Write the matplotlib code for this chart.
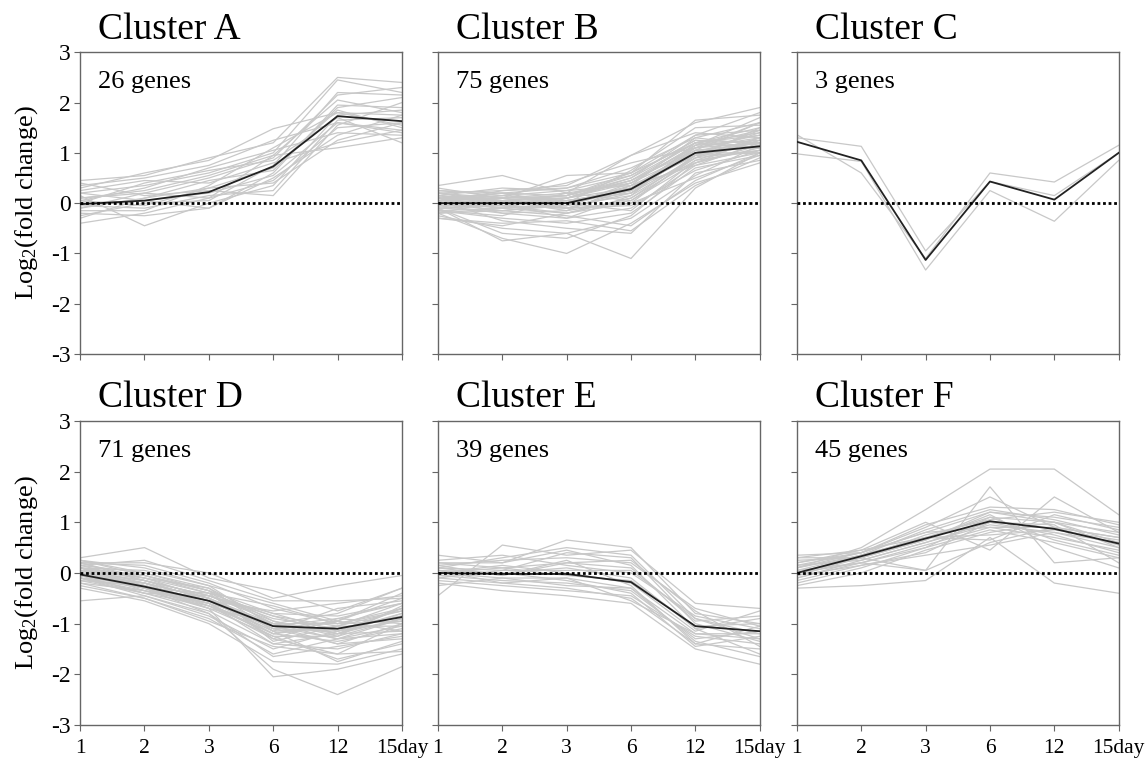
import numpy as np
import matplotlib
matplotlib.use("Agg")
import matplotlib.pyplot as plt

plt.rcParams['font.family'] = ['Liberation Serif', 'DejaVu Serif']
plt.rcParams['mathtext.fontset'] = 'custom'
plt.rcParams['mathtext.rm'] = 'Liberation Serif'
plt.rcParams['mathtext.default'] = 'regular'

days = ["1", "2", "3", "6", "12", "15day"]
names = ["Cluster A", "Cluster B", "Cluster C", "Cluster D", "Cluster E", "Cluster F"]
counts = ["26 genes", "75 genes", "3 genes", "71 genes", "39 genes", "45 genes"]

# cluster means (black lines)
mean_a = [-0.02, 0.05, 0.22, 0.73, 1.73, 1.63]
mean_b = [0.0, 0.0, 0.0, 0.28, 1.0, 1.13]
mean_c = [1.22, 0.85, -1.13, 0.43, 0.07, 1.0]
mean_d = [-0.03, -0.27, -0.55, -1.05, -1.1, -0.87]
mean_e = [0.0, -0.02, -0.02, -0.18, -1.05, -1.15]
mean_f = [0.0, 0.33, 0.68, 1.02, 0.87, 0.58]

# individual genes (grey lines)
genes_a = [
    [0.45, 0.55, 0.9, 1.2, 2.5, 2.4],
    [0.3, 0.6, 0.85, 1.48, 1.8, 1.75],
    [0.2, 0.35, 0.6, 1.0, 2.45, 2.2],
    [0.1, 0.2, 0.5, 0.9, 2.15, 2.3],
    [-0.1, 0.1, 0.3, 0.7, 1.85, 1.5],
    [0.0, 0.05, 0.2, 0.55, 1.6, 1.45],
    [-0.4, -0.2, 0.1, 0.45, 1.5, 1.6],
    [0.15, -0.45, 0.0, 0.35, 1.75, 1.85],
    [-0.2, -0.25, -0.1, 0.6, 1.95, 1.9],
    [0.05, 0.3, 0.7, 1.05, 1.4, 1.35],
    [0.25, 0.45, 0.4, 0.8, 1.2, 1.45],
    [-0.05, -0.1, 0.15, 0.25, 1.65, 1.7],
    [0.1, 0.25, 0.55, 0.95, 1.1, 1.3],
    [0.4, 0.15, 0.25, 0.15, 1.55, 2.0],
    [-0.25, 0.0, 0.05, 0.75, 2.2, 2.15],
    [0.0, 0.4, 0.65, 0.85, 1.7, 1.2],
    [-0.15, -0.15, 0.35, 1.1, 1.8, 1.55],
    [0.2, 0.05, -0.1, 0.5, 1.35, 1.75],
    [-0.3, 0.1, 0.45, 0.65, 1.9, 2.1],
    [0.35, 0.5, 0.75, 1.25, 1.6, 1.4],
    [0.05, -0.05, 0.3, 0.4, 1.25, 1.6],
    [-0.1, 0.2, 0.1, 0.95, 2.05, 1.8],
]
genes_b = [
    [0.35, 0.55, 0.2, 0.95, 1.6, 1.9],
    [0.2, 0.1, 0.55, 0.6, 1.65, 1.75],
    [-0.1, -0.75, -0.6, -1.1, 0.3, 1.0],
    [-0.2, -0.7, -1.0, -0.4, 0.4, 0.8],
    [0.1, 0.05, 0.15, 0.5, 1.2, 1.5],
    [0.0, -0.1, -0.05, 0.3, 1.05, 1.2],
    [-0.3, -0.4, -0.35, -0.55, 0.35, 0.9],
    [0.25, 0.2, 0.3, 0.7, 1.3, 1.6],
    [0.05, 0.15, 0.05, 0.2, 0.9, 1.05],
    [-0.05, -0.2, -0.15, 0.05, 0.8, 1.1],
    [0.15, 0.0, 0.1, 0.45, 1.1, 1.35],
    [-0.15, -0.3, -0.4, -0.2, 0.7, 0.95],
    [0.2, 0.25, 0.35, 0.95, 1.4, 1.3],
    [-0.25, -0.5, -0.6, -0.3, 0.55, 1.15],
    [0.1, -0.05, -0.2, 0.1, 0.95, 1.45],
    [0.0, 0.1, 0.2, 0.4, 1.0, 1.0],
    [-0.1, -0.15, 0.0, -0.15, 0.85, 1.25],
    [0.3, 0.1, -0.1, 0.25, 1.15, 1.7],
    [-0.2, 0.05, 0.15, 0.55, 1.25, 1.1],
    [0.05, -0.35, -0.5, -0.6, 0.6, 0.85],
    [0.15, 0.3, 0.25, 0.35, 0.75, 1.0],
    [-0.05, 0.0, -0.3, 0.15, 1.2, 1.4],
    [0.1, 0.2, 0.0, 0.65, 1.5, 1.55],
    [-0.15, -0.25, 0.1, 0.3, 0.95, 1.3],
    [0.0, -0.05, -0.1, -0.05, 0.65, 1.05],
    [0.25, 0.15, 0.4, 0.8, 1.1, 1.2],
    [-0.3, -0.45, -0.2, 0.0, 0.5, 0.95],
    [0.05, 0.1, 0.1, 0.5, 1.35, 1.8],
    [-0.1, -0.6, -0.7, -0.25, 0.8, 1.15],
    [0.2, 0.0, 0.05, 0.2, 1.05, 1.6],
    [-0.05, 0.05, -0.05, 0.4, 1.15, 1.25],
    [0.1, -0.1, 0.2, 0.05, 0.9, 1.5],
    [0.0, 0.25, 0.3, 0.6, 1.2, 1.35],
    [-0.2, -0.15, -0.25, -0.45, 0.45, 1.0],
    [0.15, 0.05, -0.15, 0.35, 1.3, 1.15],
    [0.05, 0.0, 0.05, 0.25, 1.0, 1.2],
    [-0.05, 0.05, 0.0, 0.35, 0.95, 1.15],
    [0.1, 0.1, 0.15, 0.45, 1.05, 1.1],
    [-0.1, -0.05, -0.1, 0.2, 1.1, 1.3],
    [0.0, -0.15, -0.05, 0.15, 0.9, 1.25],
    [0.15, 0.05, 0.1, 0.4, 1.15, 1.45],
    [-0.15, -0.1, -0.2, 0.1, 0.85, 1.05],
    [0.05, 0.15, 0.25, 0.55, 1.25, 1.2],
    [-0.05, -0.05, 0.05, 0.25, 1.0, 1.4],
    [0.2, 0.05, 0.0, 0.3, 0.8, 1.3],
    [-0.1, 0.0, 0.1, 0.45, 1.2, 1.1],
    [0.0, 0.05, -0.1, 0.0, 0.95, 1.0],
    [0.1, -0.2, -0.3, -0.1, 0.75, 1.2],
    [0.05, 0.2, 0.15, 0.6, 1.35, 1.45],
    [-0.2, -0.1, 0.0, 0.3, 1.1, 1.6],
]
genes_c = [
    [1.3, 1.13, -0.95, 0.43, 0.15, 1.0],
    [0.98, 0.83, -1.33, 0.25, -0.36, 0.85],
    [1.36, 0.6, -1.1, 0.6, 0.42, 1.15],
]
genes_d = [
    [0.3, 0.5, -0.1, -0.35, -0.75, -0.3],
    [0.2, 0.2, 0.0, -0.5, -0.25, -0.05],
    [-0.55, -0.45, -0.8, -1.9, -2.4, -1.85],
    [0.1, -0.3, -0.7, -2.05, -1.9, -1.6],
    [0.0, -0.2, -0.5, -1.0, -1.2, -0.9],
    [-0.1, -0.35, -0.6, -1.2, -1.05, -0.75],
    [0.15, 0.0, -0.35, -0.8, -0.85, -0.6],
    [-0.05, -0.4, -0.75, -1.4, -1.5, -1.2],
    [0.25, 0.1, -0.25, -0.6, -0.95, -0.4],
    [-0.2, -0.5, -0.9, -1.6, -1.3, -1.05],
    [0.05, -0.15, -0.45, -0.9, -1.1, -0.85],
    [-0.15, -0.25, -0.55, -1.15, -0.7, -0.55],
    [0.1, -0.05, -0.4, -1.3, -1.6, -1.0],
    [0.0, -0.3, -0.65, -1.05, -1.4, -1.3],
    [-0.3, -0.55, -1.0, -1.75, -1.8, -1.5],
    [0.2, 0.15, -0.2, -0.7, -1.0, -0.7],
    [-0.05, -0.2, -0.5, -1.1, -0.95, -1.15],
    [0.05, -0.1, -0.3, -0.95, -1.25, -0.65],
    [-0.1, -0.45, -0.85, -1.5, -1.15, -0.95],
    [0.15, 0.25, -0.15, -0.55, -0.55, -0.5],
    [-0.2, -0.35, -0.6, -1.25, -1.7, -1.4],
    [0.0, -0.25, -0.7, -1.0, -0.8, -0.3],
    [0.1, -0.1, -0.5, -1.2, -1.35, -1.1],
    [-0.15, -0.4, -0.45, -0.85, -1.2, -0.8],
    [0.05, -0.05, -0.35, -1.35, -1.05, -0.6],
    [-0.05, -0.3, -0.8, -1.65, -1.45, -1.25],
    [0.2, -0.15, -0.55, -0.75, -0.6, -0.45],
    [-0.25, -0.5, -0.95, -1.45, -1.6, -1.55],
    [0.1, 0.05, -0.25, -1.05, -1.3, -0.9],
    [0.0, -0.2, -0.65, -1.3, -0.9, -1.0],
    [-0.1, -0.3, -0.4, -0.65, -1.0, -0.75],
    [0.25, 0.0, -0.3, -1.15, -1.75, -1.35],
    [0.1, -0.2, -0.5, -1.1, -1.15, -0.8],
    [0.0, -0.3, -0.6, -1.0, -1.0, -0.95],
    [0.15, -0.15, -0.45, -0.95, -1.2, -0.7],
    [-0.05, -0.25, -0.55, -1.15, -1.1, -0.85],
    [0.2, -0.1, -0.4, -0.85, -1.05, -1.05],
    [0.05, -0.35, -0.7, -1.25, -1.25, -0.9],
    [-0.1, -0.2, -0.5, -1.05, -0.9, -0.6],
    [0.1, -0.25, -0.6, -1.4, -1.2, -1.15],
    [0.0, -0.15, -0.45, -0.8, -1.15, -0.7],
    [0.25, -0.05, -0.35, -1.0, -1.3, -1.2],
    [-0.1, -0.4, -0.65, -1.2, -0.95, -0.5],
    [0.05, -0.3, -0.55, -1.1, -1.4, -1.0],
]
genes_e = [
    [0.35, 0.2, 0.65, 0.5, -0.8, -1.0],
    [-0.45, 0.55, 0.35, 0.45, -0.6, -0.7],
    [0.1, 0.3, 0.5, 0.35, -0.9, -1.2],
    [0.0, -0.1, -0.1, -0.3, -1.2, -1.3],
    [-0.1, -0.2, -0.3, -0.5, -1.4, -1.5],
    [0.2, 0.1, 0.2, 0.1, -0.95, -0.85],
    [0.05, 0.0, 0.1, -0.1, -1.1, -1.6],
    [-0.2, -0.35, -0.45, -0.6, -1.5, -1.8],
    [0.15, 0.25, 0.3, 0.2, -0.7, -1.05],
    [-0.05, -0.15, -0.2, -0.35, -1.3, -1.15],
    [0.1, 0.05, 0.4, 0.3, -1.0, -1.35],
    [0.0, 0.15, 0.0, -0.2, -1.15, -0.75],
    [-0.15, -0.25, -0.35, -0.45, -1.25, -1.4],
    [0.25, 0.35, 0.15, 0.0, -0.85, -1.1],
    [-0.05, 0.0, -0.15, -0.4, -1.45, -1.25],
    [0.1, -0.05, 0.2, 0.25, -0.75, -1.45],
    [0.0, 0.1, -0.05, -0.15, -1.05, -1.0],
    [-0.25, -0.1, -0.25, -0.3, -1.35, -1.65],
    [0.2, 0.2, 0.45, 0.15, -1.1, -0.9],
    [0.05, -0.2, -0.1, -0.55, -1.2, -1.2],
    [-0.1, 0.05, 0.05, 0.05, -0.9, -1.3],
    [0.15, -0.05, 0.25, -0.25, -1.4, -1.05],
]
genes_f = [
    [0.1, 0.5, 1.25, 2.05, 2.05, 1.15],
    [0.0, 0.3, 0.05, 1.7, 0.2, 0.3],
    [0.2, 0.4, 0.9, 1.5, 0.9, 0.7],
    [-0.3, -0.25, -0.15, 0.7, -0.2, -0.4],
    [0.3, 0.45, 1.0, 0.45, 1.5, 0.8],
    [0.05, 0.35, 0.7, 1.1, 1.0, 0.6],
    [-0.1, 0.25, 0.6, 0.95, 0.8, 0.5],
    [0.15, 0.4, 0.8, 1.2, 1.1, 0.9],
    [-0.2, 0.1, 0.5, 0.85, 0.6, 0.3],
    [0.25, 0.3, 0.75, 1.05, 1.2, 1.0],
    [0.0, 0.2, 0.55, 0.9, 0.7, 0.45],
    [-0.15, 0.15, 0.4, 1.0, 0.95, 0.2],
    [0.1, 0.35, 0.85, 1.25, 1.05, 0.75],
    [0.2, 0.45, 0.7, 0.75, 0.85, 0.65],
    [-0.05, 0.3, 0.65, 1.15, 0.5, 0.1],
    [0.35, 0.4, 0.95, 1.3, 1.25, 0.95],
    [0.05, 0.2, 0.05, 0.6, 0.9, 0.55],
    [-0.25, 0.0, 0.45, 0.8, 1.0, 0.8],
    [0.15, 0.25, 0.6, 1.0, 0.75, 0.4],
    [0.0, 0.35, 0.7, 0.65, 1.15, 0.85],
    [-0.1, 0.2, 0.5, 1.1, 0.65, 0.35],
    [0.1, 0.4, 0.8, 0.9, 0.9, 0.7],
    [0.3, 0.3, 0.65, 1.2, 1.0, 0.5],
    [-0.05, 0.15, 0.35, 0.55, 0.8, 0.6],
]

all_genes = [genes_a, genes_b, genes_c, genes_d, genes_e, genes_f]
all_means = [mean_a, mean_b, mean_c, mean_d, mean_e, mean_f]

fig = plt.figure(figsize=(11.45, 7.62), dpi=100)
lefts = [0.070, 0.3825, 0.696]
bottoms = [0.5354, 0.0486]
heights = [0.396, 0.399]
w = 0.281
x = np.arange(len(days))

for i in range(6):
    r, c = divmod(i, 3)
    ax = fig.add_axes([lefts[c], bottoms[r], w, heights[r]])
    for g in all_genes[i]:
        ax.plot(x, g, color="#c8c8c8", lw=0.9, zorder=1)
    ax.plot(x, all_means[i], color="#222222", lw=1.3, zorder=3)
    ax.axhline(0, color="black", lw=2, ls=(0, (1, 1)), zorder=4)
    ax.set_xlim(0, 5)
    ax.set_ylim(-3, 3)
    ax.set_xticks(x)
    ax.set_yticks(range(-3, 4))
    for s in ax.spines.values():
        s.set_color("#666666")
        s.set_linewidth(1.0)
    ax.tick_params(direction="out", length=4, color="#666666", labelsize=17, pad=3)
    ax.tick_params(axis="x", pad=6)
    if r == 1:
        ax.set_xticklabels(days, fontsize=15.5)
    else:
        ax.set_xticklabels([])
    if c == 0:
        ax.set_yticklabels([str(v) for v in range(-3, 4)], fontsize=17)
        ax.set_ylabel("Log$_2$(fold change)", fontsize=19)
        ax.yaxis.set_label_coords(-0.125, 0.5)
    else:
        ax.set_yticklabels([])
    ax.text(0.055, 1.045, names[i], transform=ax.transAxes, fontsize=27,
            va="baseline", ha="left")
    ax.text(0.055, 0.88, counts[i], transform=ax.transAxes, fontsize=19,
            va="baseline", ha="left")

fig.savefig("out.png", dpi=100)
